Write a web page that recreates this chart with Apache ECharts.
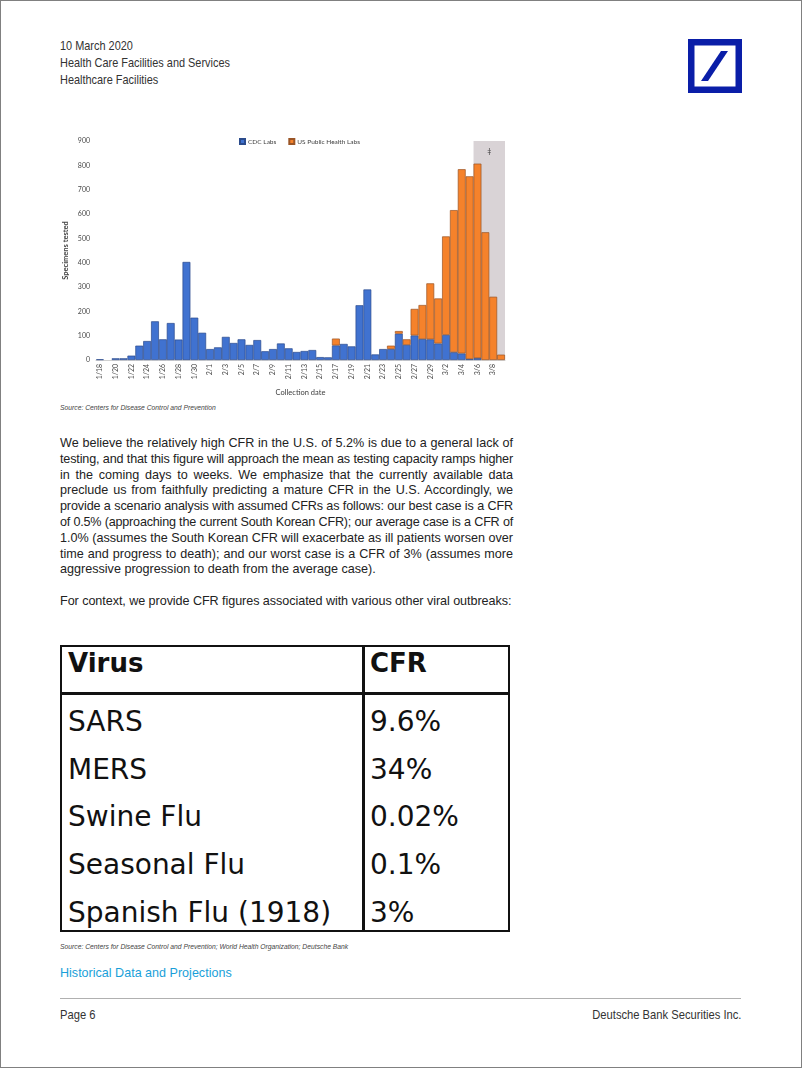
<!DOCTYPE html>
<html><head><meta charset="utf-8">
<script src="https://cdn.jsdelivr.net/npm/echarts@6/dist/echarts.min.js"></script>
<style>
html,body{margin:0;padding:0;background:#fff;}
#page{position:relative;width:802px;height:1068px;overflow:hidden;font-family:"Liberation Sans",Arial,sans-serif;color:#333;}
#frame{position:absolute;left:0;top:0;width:802px;height:1068px;box-sizing:border-box;border:1px solid #808080;pointer-events:none;}
.abs{position:absolute;white-space:nowrap;}
.hdr{font-size:13px;line-height:17px;color:#333;transform:scaleX(0.84);transform-origin:0 0;}
.src{font-size:7.5px;font-style:italic;color:#444;transform:scaleX(0.9);transform-origin:0 0;}
#para{position:absolute;left:60px;top:436px;width:453px;font-family:"Liberation Sans",Arial,sans-serif;font-size:12.6px;line-height:15.8px;color:#222;}
#para div{white-space:nowrap;}
#para .j{text-align:justify;text-align-last:justify;}
#tbl{position:absolute;left:60px;top:645px;width:450px;height:287px;box-sizing:border-box;border:2.5px solid #111;}
.tline{position:absolute;background:#111;}
.tt{position:absolute;white-space:nowrap;font-family:"DejaVu Sans",Verdana,sans-serif;color:#111;font-size:28px;line-height:40px;}
.tt.b{font-weight:bold;font-size:26px;}
</style></head>
<body>
<div id="page">
  <div class="abs hdr" style="left:60px;top:37px;">10 March 2020<br>Health Care Facilities and Services<br>Healthcare Facilities</div>
  <svg class="abs" style="left:688px;top:39px;" width="54" height="54" viewBox="0 0 54 54">
    <rect x="0" y="0" width="54" height="54" fill="#0a1ea8"/>
    <rect x="6.5" y="6.5" width="41" height="41" fill="#fff"/>
    <polygon points="13,42 20,42 40,12 33,12" fill="#0a1ea8"/>
  </svg>
  <div id="chart" class="abs" style="left:60px;top:128px;width:455px;height:272px;"></div>
  <div class="abs src" style="left:60px;top:403px;">Source: Centers for Disease Control and Prevention</div>
  <div id="para">
    <div class="j">We believe the relatively high CFR in the U.S. of 5.2% is due to a general lack of</div>
    <div class="j">testing, and that this figure will approach the mean as testing capacity ramps higher</div>
    <div class="j">in the coming days to weeks. We emphasize that the currently available data</div>
    <div class="j">preclude us from faithfully predicting a mature CFR in the U.S. Accordingly, we</div>
    <div class="j">provide a scenario analysis with assumed CFRs as follows: our best case is a CFR</div>
    <div class="j">of 0.5% (approaching the current South Korean CFR); our average case is a CFR of</div>
    <div class="j">1.0% (assumes the South Korean CFR will exacerbate as ill patients worsen over</div>
    <div class="j">time and progress to death); and our worst case is a CFR of 3% (assumes more</div>
    <div>aggressive progression to death from the average case).</div>
    <div>&nbsp;</div>
    <div class="f">For context, we provide CFR figures associated with various other viral outbreaks:</div>
  </div>
  <div id="tbl"></div>
  <div class="tline" style="left:60px;top:692px;width:450px;height:2.5px;"></div>
  <div class="tline" style="left:362px;top:645px;width:2.5px;height:287px;"></div>
  <div class="tt b" style="left:68px;top:643px;">Virus</div>
  <div class="tt b" style="left:370px;top:643px;">CFR</div>
  <div class="tt" style="left:68px;top:702px;">SARS</div>
  <div class="tt" style="left:370px;top:702px;">9.6%</div>
  <div class="tt" style="left:68px;top:750px;">MERS</div>
  <div class="tt" style="left:370px;top:750px;">34%</div>
  <div class="tt" style="left:68px;top:797px;">Swine Flu</div>
  <div class="tt" style="left:370px;top:797px;">0.02%</div>
  <div class="tt" style="left:68px;top:845px;">Seasonal Flu</div>
  <div class="tt" style="left:370px;top:845px;">0.1%</div>
  <div class="tt" style="left:68px;top:893px;">Spanish Flu (1918)</div>
  <div class="tt" style="left:370px;top:893px;">3%</div>
  <div class="abs src" style="left:60px;top:942px;">Source: Centers for Disease Control and Prevention; World Health Organization; Deutsche Bank</div>
  <div class="abs" style="left:60px;top:965px;font-size:13.5px;color:#1a9fd9;transform:scaleX(0.93);transform-origin:0 0;">Historical Data and Projections</div>
  <div class="abs" style="left:60px;top:998px;width:681px;height:1px;background:#b0b0b0;"></div>
  <div class="abs" style="left:60px;top:1007px;font-size:13px;color:#333;transform:scaleX(0.86);transform-origin:0 0;">Page 6</div>
  <div class="abs" style="right:61px;top:1007px;font-size:13px;color:#333;transform:scaleX(0.86);transform-origin:100% 0;">Deutsche Bank Securities Inc.</div>
  <div id="frame"></div>
</div>
<script>
// fit paragraph lines that are too long for the column
(function(){
  const W = 453;
  document.querySelectorAll('#para .j, #para .f').forEach(function(el){
    const s = document.createElement('span');
    s.textContent = el.textContent;
    s.style.whiteSpace = 'nowrap';
    el.textContent = '';
    el.appendChild(s);
    const w = s.getBoundingClientRect().width;
    if (w > W) {
      const n = s.textContent.length;
      el.style.letterSpacing = ((W - w) / n - 0.02) + 'px';
    }
    el.textContent = s.textContent;
  });
})();

const categories = ['1/18','1/19','1/20','1/21','1/22','1/23','1/24','1/25','1/26','1/27','1/28','1/29','1/30','1/31',
  '2/1','2/2','2/3','2/4','2/5','2/6','2/7','2/8','2/9','2/10','2/11','2/12','2/13','2/14','2/15','2/16','2/17','2/18','2/19','2/20',
  '2/21','2/22','2/23','2/24','2/25','2/26','2/27','2/28','2/29',
  '3/1','3/2','3/3','3/4','3/5','3/6','3/7','3/8','3/9'];
const cdcLabs = [3,0,7,7,18,59,78,159,85,152,84,403,174,112,
  45,52,95,70,85,62,82,36,45,68,48,33,37,41,12,11,60,66,56,225,
  290,23,45,45,108,62,101,86,85,
  68,103,32,27,4,8,0,0,0];
const usPublicHealthLabs = [0,0,0,0,0,0,0,0,0,0,0,0,0,0,
  0,0,0,0,0,0,0,0,0,0,0,0,0,0,0,0,28,0,0,0,
  0,0,0,14,11,23,109,140,230,
  185,405,584,757,751,799,525,260,22];
const yMin = 0, yMax = 900, yStep = 100;
const shadedRange = ['3/6','3/9'];
const shadedMark = '\u2021';

const toBar = arr => arr.map(v => v === 0 ? '-' : v);
const chart = echarts.init(document.getElementById('chart'));
const font = 'Lato, "Liberation Sans", Arial, sans-serif';
chart.setOption({
  animation: false,
  textStyle: {fontFamily: font},
  legend: {
    data: ['CDC Labs','US Public Health Labs'],
    left: 174, top: 5, itemWidth: 5, itemHeight: 5, itemGap: 12,
    icon: 'rect',
    textStyle: {fontSize: 6.5, color: '#404040', padding: [0,0,0,-2]}
  },
  grid: {left: 36, right: 10, top: 13, bottom: 40, containLabel: false, outerBoundsMode: 'none'},
  xAxis: {
    type: 'category', data: categories,
    axisTick: {show: false},
    axisLine: {lineStyle: {color: '#d0d0d0'}},
    axisLabel: {rotate: 90, interval: 1, fontSize: 7, color: '#4a4a4a', margin: 4},
    name: 'Collection date', nameLocation: 'middle', nameGap: 29, nameMoveOverlap: false,
    nameTextStyle: {fontSize: 7.5, color: '#404040'}
  },
  yAxis: {
    type: 'value', min: yMin, max: yMax, interval: yStep,
    splitLine: {show: false},
    axisLine: {show: false}, axisTick: {show: false},
    axisLabel: {fontSize: 7, color: '#4a4a4a', margin: 6},
    name: 'Specimens tested', nameLocation: 'middle', nameGap: 26, nameRotate: 90, nameMoveOverlap: false,
    nameTextStyle: {fontSize: 7.5, color: '#404040', fontWeight: 'bold'}
  },
  series: [
    {
      name: 'CDC Labs', type: 'bar', stack: 'total', data: toBar(cdcLabs),
      barCategoryGap: '0%',
      itemStyle: {color: '#4072d0', borderColor: '#2b4b8c', borderWidth: 0.7},
      markArea: {
        silent: true,
        itemStyle: {color: '#d9d3d6'},
        label: {show: true, position: 'insideTop', distance: 7, formatter: shadedMark, fontSize: 7, color: '#333'},
        data: [[{xAxis: shadedRange[0]}, {xAxis: shadedRange[1]}]]
      }
    },
    {
      name: 'US Public Health Labs', type: 'bar', stack: 'total', data: toBar(usPublicHealthLabs),
      barCategoryGap: '0%',
      itemStyle: {color: '#f5822b', borderColor: '#9a5526', borderWidth: 0.7}
    }
  ]
});
</script>
</body></html>
